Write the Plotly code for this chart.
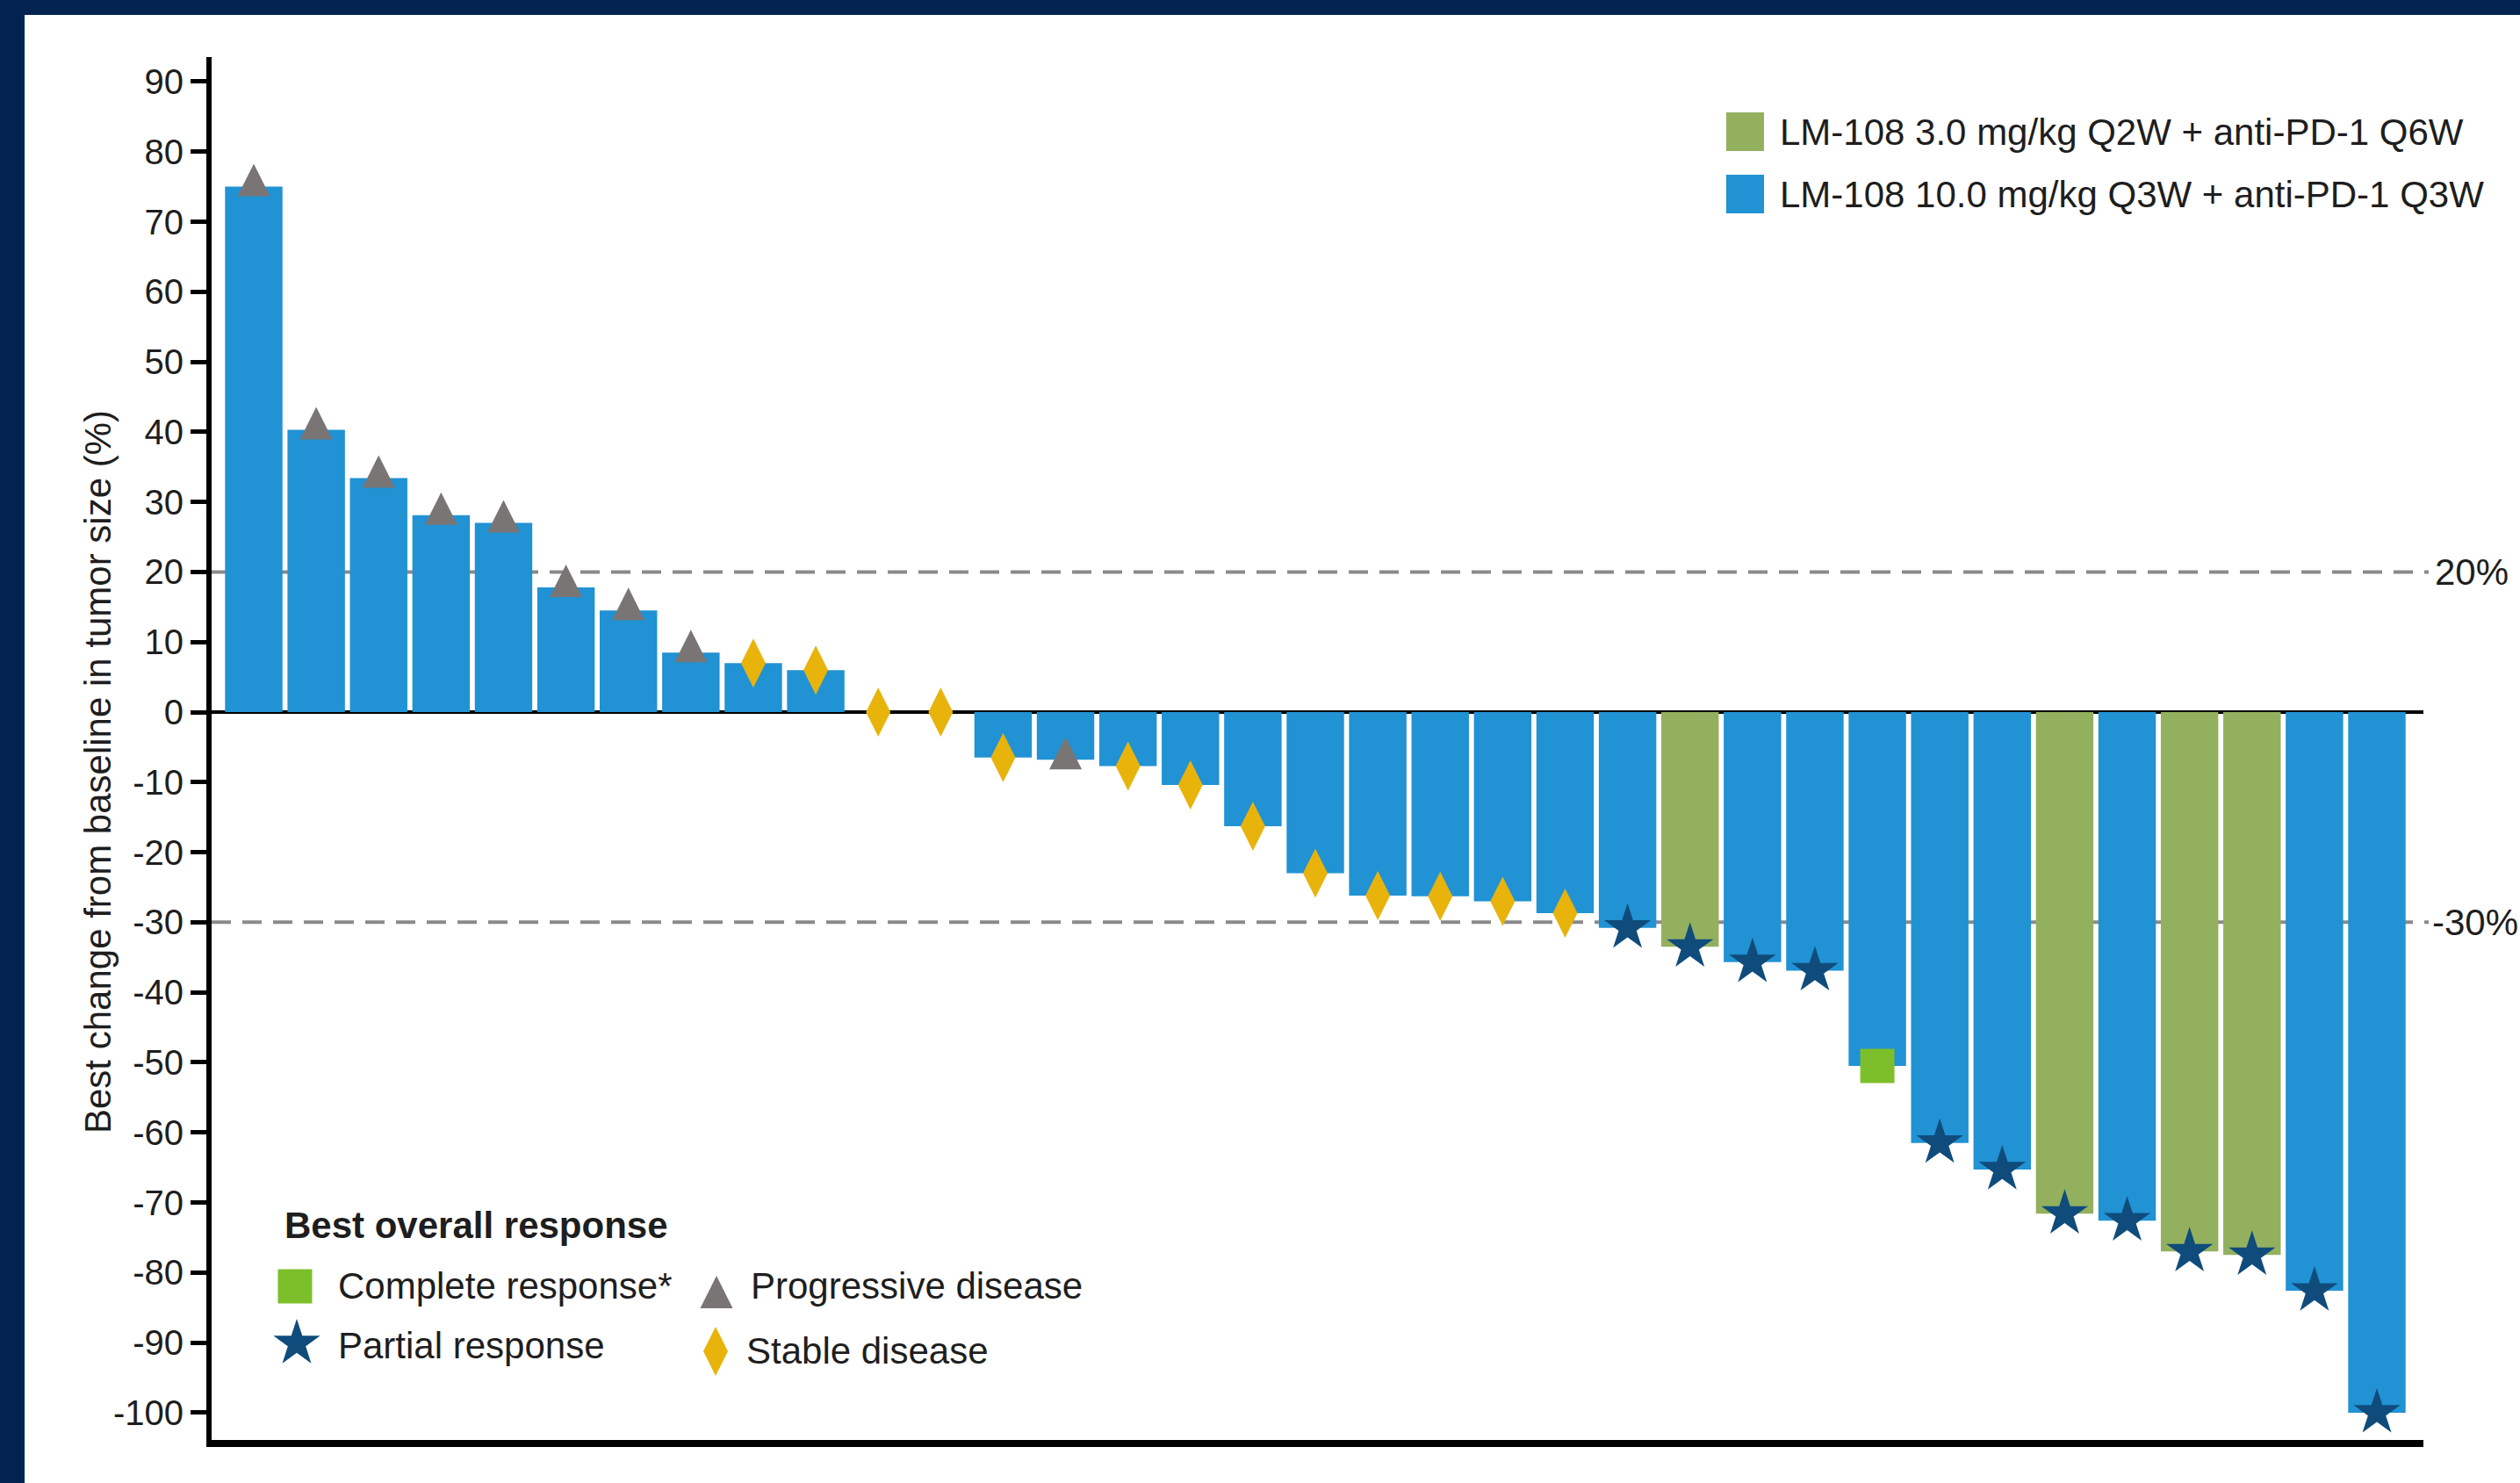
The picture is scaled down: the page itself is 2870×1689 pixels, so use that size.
import plotly.graph_objects as go

# ---------------- data ----------------
patients = list(range(1, 36))
change = [75.0, 40.3, 33.4, 28.1, 27.0, 17.8, 14.5, 8.5, 7.0, 6.0,
          0.0, 0.0, -6.5, -6.8, -7.7, -10.4, -16.3, -23.0, -26.2, -26.3,
          -27.0, -28.7, -30.8, -33.5, -35.7, -36.9, -50.5, -61.5, -65.3, -71.6,
          -72.6, -77.0, -77.5, -82.6, -100.0]
arm = ["10", "10", "10", "10", "10", "10", "10", "10", "10", "10",
       "10", "10", "10", "10", "10", "10", "10", "10", "10", "10",
       "10", "10", "10", "3", "10", "10", "10", "10", "10", "3",
       "10", "3", "3", "10", "10"]
response = ["PD", "PD", "PD", "PD", "PD", "PD", "PD", "PD", "SD", "SD",
            "SD", "SD", "SD", "PD", "SD", "SD", "SD", "SD", "SD", "SD",
            "SD", "SD", "PR", "PR", "PR", "PR", "CR", "PR", "PR", "PR",
            "PR", "PR", "PR", "PR", "PR"]
arm_codes = ["3", "10"]
arm_labels = ["LM-108 3.0 mg/kg Q2W + anti-PD-1 Q6W",
              "LM-108 10.0 mg/kg Q3W + anti-PD-1 Q3W"]
response_codes = ["CR", "PD", "PR", "SD"]
response_labels = ["Complete response*", "Progressive disease",
                   "Partial response", "Stable disease"]
legend_title = "Best overall response"
y_ticks = list(range(-100, 91, 10))
y_tick_text = [str(v) for v in y_ticks]
thresholds = [20, -30]
threshold_labels = ["20%", "-30%"]
y_title = "Best change from baseline in tumor size (%)"

# ---------------- styles ----------------
W, H = 2870, 1689
L, R, T, B = 241, 2760, 65, 1640
NAVY = "#02234f"
TXT = "#1e1e1e"
FONT = "Liberation Sans, Arial, Helvetica, sans-serif"
arm_colors = {"3": "#93b05f", "10": "#2192d3"}
# PD: an arrow-down turned 180 deg gives an upward triangle whose apex sits
# `standoff` px above the bar end
resp_style = {
    "CR": dict(symbol="square", size=39, color="#7dbf2a", angle=0, standoff=0),
    "PD": dict(symbol="arrow-down", size=37, color="#7a7575", angle=180, standoff=26),
    "PR": dict(symbol="star", size=40, color="#0f4c7c", angle=0, standoff=0),
    "SD": dict(symbol="diamond-tall", size=40, color="#e8b40c", angle=0, standoff=0),
}


def px_x(X):
    return (X - L) / (R - L)


def px_y(Y):
    return (B - Y) / (B - T)


def marker_of(st):
    return dict(symbol=st["symbol"], size=st["size"], color=st["color"],
                angle=st["angle"], standoff=st["standoff"], line=dict(width=0))


x_idx = list(range(len(patients)))

fig = go.Figure()
fig.add_trace(go.Bar(
    x=x_idx, y=change,
    marker=dict(color=[arm_colors[a] for a in arm], line=dict(width=0)),
    showlegend=False, hoverinfo="skip",
))
for code in response_codes:
    xs = [i for i, r in zip(x_idx, response) if r == code]
    ys = [change[i] for i in xs]
    fig.add_trace(go.Scatter(
        x=xs, y=ys, mode="markers", cliponaxis=False, showlegend=False,
        marker=marker_of(resp_style[code]), hoverinfo="skip",
    ))

# response legend markers on a pixel-based overlay axis
leg_marker_pos = {"CR": (336, 1465), "PD": (816, 1479), "PR": (338, 1530), "SD": (815, 1539)}
leg_text_pos = {"CR": (383, 1464), "PD": (853, 1464), "PR": (383, 1532), "SD": (848, 1538)}
for code in response_codes:
    mx, my = leg_marker_pos[code]
    fig.add_trace(go.Scatter(
        x=[mx], y=[my], xaxis="x2", yaxis="y2", mode="markers",
        cliponaxis=False, showlegend=False, hoverinfo="skip",
        marker=marker_of(resp_style[code]),
    ))

shapes = []
# white panel (navy frame on top and left)
shapes.append(dict(type="rect", xref="paper", yref="paper", layer="below",
                   x0=px_x(28), x1=px_x(W + 20), y0=px_y(H + 20), y1=px_y(17),
                   fillcolor="white", line=dict(width=0)))
for t in thresholds:
    shapes.append(dict(type="line", xref="paper", yref="y", layer="below",
                       x0=0, x1=px_x(2766), y0=t, y1=t,
                       line=dict(color="#8a8a8a", width=4, dash="22px,13px")))
# arm legend swatches
arm_leg_y = [150, 221]
for code, yy in zip(arm_codes, arm_leg_y):
    shapes.append(dict(type="rect", xref="paper", yref="paper",
                       x0=px_x(1966), x1=px_x(2009), y0=px_y(yy + 22), y1=px_y(yy - 22),
                       fillcolor=arm_colors[code], line=dict(width=0)))

annotations = []
for lab, yy in zip(arm_labels, arm_leg_y):
    annotations.append(dict(text=lab, xref="paper", yref="paper",
                            x=px_x(2025), y=px_y(yy), xanchor="left", yanchor="middle",
                            showarrow=False, font=dict(size=42, color=TXT, family=FONT)))
annotations.append(dict(text="<b>" + legend_title + "</b>", xref="paper", yref="paper",
                        x=px_x(322), y=px_y(1395), xanchor="left", yanchor="middle",
                        showarrow=False, font=dict(size=42, color=TXT, family=FONT)))
for code, lab in zip(response_codes, response_labels):
    tx, ty = leg_text_pos[code]
    annotations.append(dict(text=lab, xref="paper", yref="paper",
                            x=px_x(tx), y=px_y(ty), xanchor="left", yanchor="middle",
                            showarrow=False, font=dict(size=42, color=TXT, family=FONT)))
for t, lab, xx in zip(thresholds, threshold_labels, [2771, 2768]):
    annotations.append(dict(text=lab, xref="paper", yref="y", x=px_x(xx), y=t,
                            xanchor="left", yanchor="middle", showarrow=False,
                            font=dict(size=42, color=TXT, family=FONT)))
annotations.append(dict(text=y_title, xref="paper", yref="paper", textangle=-90,
                        x=px_x(111), y=px_y(879), xanchor="center", yanchor="middle",
                        showarrow=False, font=dict(size=42, color=TXT, family=FONT)))

fig.update_layout(
    width=W, height=H,
    margin=dict(l=L, r=W - R, t=T, b=H - B, pad=0),
    paper_bgcolor=NAVY, plot_bgcolor="white",
    bargap=0.08, showlegend=False,
    font=dict(family=FONT, color=TXT),
    shapes=shapes, annotations=annotations,
    xaxis=dict(range=[-0.675, 34.745], showgrid=False, zeroline=False,
               showticklabels=False, ticks="", showline=True,
               linecolor="black", linewidth=8),
    yaxis=dict(range=[-103.9, 93.5], tickvals=y_ticks, ticktext=y_tick_text,
               showgrid=False,
               zeroline=True, zerolinecolor="black", zerolinewidth=4,
               showline=True, linecolor="black", linewidth=6,
               ticks="outside", ticklen=18, tickwidth=5, tickcolor="black",
               tickfont=dict(size=40, color=TXT, family=FONT)),
    xaxis2=dict(overlaying="x", range=[L, R], visible=False),
    yaxis2=dict(overlaying="y", range=[B, T], visible=False),
)

fig.write_html("out.html")
